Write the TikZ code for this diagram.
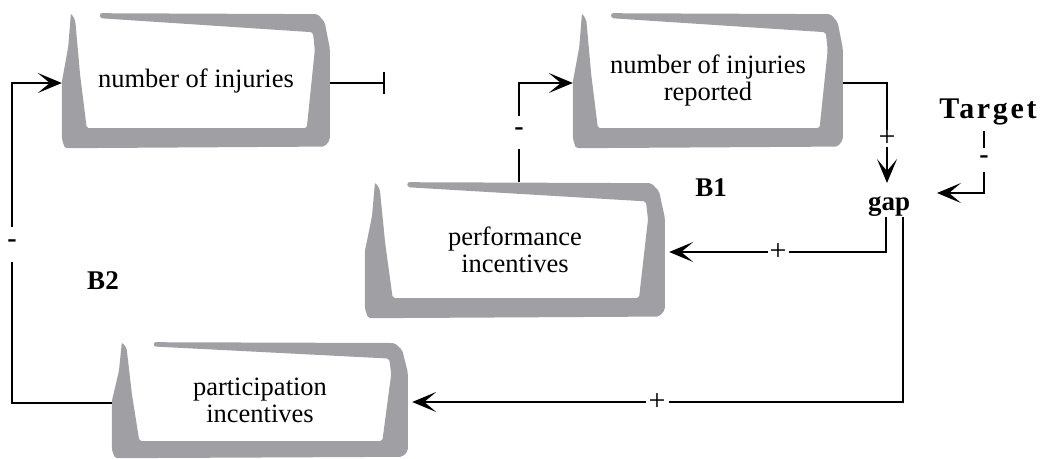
\documentclass[tikz,border=0pt]{standalone}
\usepackage{fontspec}
\setmainfont{Liberation Serif}
\usetikzlibrary{arrows.meta,calc,backgrounds}
\definecolor{scrollgray}{RGB}{160,160,164}
\tikzset{
  boxtext/.style={align=center, inner sep=0pt, font=\fontsize{26.5}{27}\selectfont},
  lbl/.style={font=\bfseries\fontsize{27}{28}\selectfont, inner sep=0pt},
  sign/.style={fill=white, inner sep=0pt, font=\fontsize{30}{30}\selectfont},
  minus/.style={sign, font=\bfseries\fontsize{28}{28}\selectfont},
  conn/.style={line width=1.8pt},
  arr/.style={conn, -{Stealth[length=24pt,width=20pt,inset=12pt]}},
  inh/.style={conn, -{Bar[width=22pt,line width=2pt]}},
}
\newcommand{\scrollshape}[3]{%
  \begin{scope}[on background layer, shift={(#1.south west)}, x=#2pt, y=#3pt]
   \fill[scrollgray, rounded corners=2pt] (0.142,1) -- (0.955,0.993) -- (0.981,0.933) -- (1,0.74)
     -- (1,0.06) -- (0.981,0.012) -- (0.011,0) -- (0,0.074) -- (0,0.49) -- (0.012,0.62)
     -- (0.024,0.75) -- (0.034,1) -- (0.05,0.95) -- (0.068,0.55) -- (0.093,0.148)
     -- (0.914,0.148) -- (0.944,0.726) -- (0.937,0.859) -- (0.142,0.963) -- cycle;
  \end{scope}}
\begin{document}
\begin{tikzpicture}[x=1pt,y=-1pt]
\useasboundingbox (0,0) rectangle (1043,458);
% boxes
\node[boxtext, minimum width=268pt, minimum height=135pt] (inj) at (196,80.5) {number of injuries};
\node[boxtext, minimum width=270pt, minimum height=135pt] (rep) at (708,80.5) {number of injuries\\reported};
\node[boxtext, minimum width=300pt, minimum height=136pt] (perf) at (515,250) {performance\\incentives};
\node[boxtext, minimum width=296pt, minimum height=116pt] (part) at (260,400) {participation\\incentives};
\scrollshape{inj}{268}{135}
\scrollshape{rep}{270}{135}
\scrollshape{perf}{300}{136}
\scrollshape{part}{296}{116}
% labels
\node[lbl] (gap) at (889,207) {gap};
\node[lbl, font=\bfseries\fontsize{30}{30}\selectfont\addfontfeatures{LetterSpace=9}] (target) at (988,112) {Target};
\node[lbl] (b1) at (711,188) {B1};
\node[lbl] (b2) at (103,281) {B2};
% corner coordinates
\coordinate (aL) at (12,403);
\coordinate (aT) at (12,83);
\coordinate (iE) at (385,83);
\coordinate (bC) at (519,83);
\coordinate (cC) at (887,83);
\coordinate (gTop) at (887,183);
\coordinate (tC) at (984,193);
\coordinate (gR) at (937,193);
\coordinate (g1) at (886,217);
\coordinate (g2) at (903,217);
\coordinate (pp) at (886,252);
\coordinate (qq) at (903,402);
% connectors
\draw[arr] (part.west |- aL) -- (aL) -- (aT) -- (inj.west |- aT);
\draw[inh] (inj.east |- aT) -- (iE);
\draw[arr] (perf.north -| bC) -- (bC) -- (rep.west |- bC);
\draw[arr] (rep.east |- cC) -- (cC) -- (gTop);
\draw[arr, shorten <=6pt] (target.south -| tC) -- (tC) -- (gR);
\draw[arr, shorten >=4pt] (g1) -- (pp) -- (perf.east |- pp);
\draw[arr, shorten >=4pt] (g2) -- (qq) -- (part.east |- qq);
% signs
\node[minus, minimum height=35pt] (s1) at (12,244) {-};
\node[minus, minimum height=33pt] (s2) at (519,132) {-};
\node[sign, minimum height=17pt] (s3) at (887,138) {+};
\node[minus, minimum height=24pt] (s4) at (984,160) {-};
\node[sign, minimum width=21pt] (s5) at (778,252) {+};
\node[sign, minimum width=23pt] (s6) at (657,402) {+};
\end{tikzpicture}
\end{document}
